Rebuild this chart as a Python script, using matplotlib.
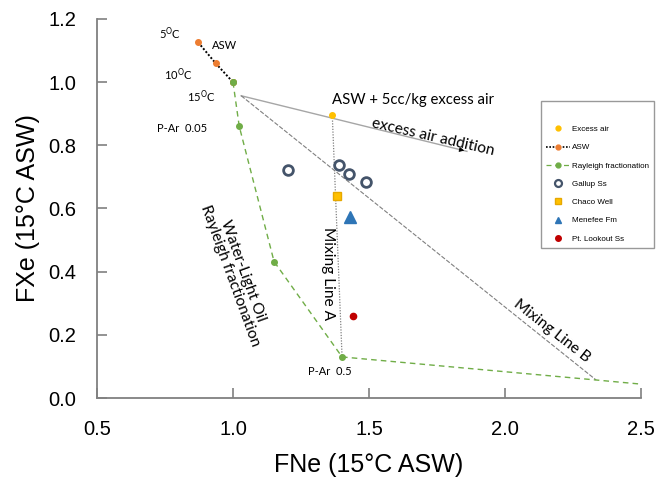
import matplotlib
matplotlib.use("Agg")
import matplotlib.pyplot as plt
from matplotlib.lines import Line2D

# ---- data ----
asw_x = [0.872, 0.936, 1.0]
asw_y = [1.126, 1.060, 1.0]
ray_x = [1.0, 1.023, 1.151, 1.401]
ray_y = [1.0, 0.860, 0.432, 0.130]
ray_tail_x = [1.401, 2.335, 2.55]
ray_tail_y = [0.130, 0.057, 0.040]
excess_x = [1.365]
excess_y = [0.896]
gallup_x = [1.203, 1.390, 1.425, 1.489]
gallup_y = [0.722, 0.739, 0.709, 0.685]
chaco_x = [1.381]
chaco_y = [0.640]
menefee_x = [1.430]
menefee_y = [0.572]
ptl_x = [1.442]
ptl_y = [0.260]
air_line_x = [1.03, 1.86]
air_line_y = [0.957, 0.781]
mixA_x = [1.365, 1.401]
mixA_y = [0.896, 0.130]
mixB_x = [1.03, 2.335]
mixB_y = [0.957, 0.057]
xticks = [0.5, 1.0, 1.5, 2.0, 2.5]
yticks = [0.0, 0.2, 0.4, 0.6, 0.8, 1.0, 1.2]

arial = ['Liberation Sans', 'DejaVu Sans']
cal = ['Lato', 'DejaVu Sans']

fig = plt.figure(figsize=(6.56, 4.84), dpi=100)
ax = fig.add_axes([97/656, 1-398/484, (641-97)/656, (398-19)/484])
ax.set_xlim(0.5, 2.5)
ax.set_ylim(0.0, 1.2)

ORANGE = '#ED7D31'
YEL = '#FFC000'
GREEN = '#70AD47'
NAVY = '#44546A'
BLUE = '#2E75B6'
RED = '#C00000'

# lines
ax.plot(air_line_x, air_line_y, color='#A6A6A6', lw=1.0, zorder=2)
ax.annotate('', xy=(air_line_x[1], air_line_y[1]),
            xytext=(air_line_x[1]-0.03, air_line_y[1]+0.0064),
            arrowprops=dict(arrowstyle='-|>', color='black', lw=0.6, mutation_scale=7))
ax.plot(mixA_x, mixA_y, color='#808080', lw=0.9, ls=(0, (1, 1.2)), zorder=2)
ax.plot(mixB_x, mixB_y, color='#808080', lw=0.8, ls=(0, (4, 1.5)), zorder=2)
ax.plot(ray_tail_x, ray_tail_y, color=GREEN, lw=1.0, ls=(0, (4, 3)), zorder=2)
ax.plot(ray_x, ray_y, color=GREEN, lw=1.0, ls=(0, (4, 3)), marker='o', ms=4,
        mfc=GREEN, mec=GREEN, zorder=3)
ax.plot(asw_x, asw_y, color='black', lw=1.4, ls=(0, (1, 1)), marker='o', ms=4,
        mfc=ORANGE, mec=ORANGE, zorder=3)
ax.plot([asw_x[-1]], [asw_y[-1]], 'o', ms=4, color=GREEN, zorder=4)

ax.plot(excess_x, excess_y, 'o', ms=4, color=YEL, zorder=4)
ax.plot(gallup_x, gallup_y, 'o', ms=7, mfc='white', mec=NAVY, mew=2, zorder=4)
ax.plot(chaco_x, chaco_y, 's', ms=6, mfc=YEL, mec='#E6A800', zorder=4)
ax.plot(menefee_x, menefee_y, '^', ms=8, color=BLUE, zorder=4)
ax.plot(ptl_x, ptl_y, 'o', ms=4.5, color=RED, zorder=4)

# annotations
fs = 8
ax.text(0.728, 1.154, '5$^{\\mathrm{O}}$C', fontsize=fs, family=cal, va='center')
ax.text(0.923, 1.116, 'ASW', fontsize=fs, family=cal, va='center')
ax.text(0.746, 1.024, '10$^{\\mathrm{O}}$C', fontsize=fs, family=cal, va='center')
ax.text(0.832, 0.953, '15$^{\\mathrm{O}}$C', fontsize=fs, family=cal, va='center')
ax.text(0.719, 0.853, 'P-Ar  0.05', fontsize=fs, family=cal, va='center')
ax.text(1.277, 0.083, 'P-Ar  0.5', fontsize=fs, family=cal, va='center')
ax.text(1.363, 0.942, 'ASW + 5cc/kg excess air', fontsize=10.7, family=cal, va='center')
ax.text(1.734, 0.826, 'excess air addition', fontsize=11.2, family=cal,
        va='center', ha='center', rotation=-13)
ax.text(1.013, 0.395, 'Water-Light Oil\nRayleigh fractionation', fontsize=11.2,
        family=cal, va='center', ha='center', rotation=-70, linespacing=1.0)
ax.text(1.350, 0.395, 'Mixing Line A', fontsize=11.2, family=cal,
        va='center', ha='center', rotation=-90)
ax.text(2.171, 0.212, 'Mixing Line B', fontsize=11.2, family=cal,
        va='center', ha='center', rotation=-38)

# axes style
for s in ['top', 'right']:
    ax.spines[s].set_visible(False)
for s in ['left', 'bottom']:
    ax.spines[s].set_color('#808080')
    ax.spines[s].set_linewidth(1.3)
ax.set_xticks(xticks)
ax.set_yticks(yticks)
ax.set_xticklabels([f'{v:.1f}' for v in xticks], family=arial, fontsize=14.5)
ax.set_yticklabels([f'{v:.1f}' for v in yticks], family=arial, fontsize=14.5)
ax.tick_params(direction='in', length=7, width=1.2, color='#808080')
ax.tick_params(axis='x', pad=16)
ax.tick_params(axis='y', pad=15)
ax.set_xlabel('FNe (15°C ASW)', family=arial, fontsize=18)
ax.set_ylabel('FXe (15°C ASW)', family=arial, fontsize=18)
ax.xaxis.set_label_coords(0.5, -0.145)
ax.yaxis.set_label_coords(-0.105, 0.5)

# legend
handles = [
    Line2D([], [], ls='none', marker='o', ms=3.5, color=YEL),
    Line2D([], [], color='black', lw=1.2, ls=(0, (1, 1)), marker='o', ms=3.5, mfc=ORANGE, mec=ORANGE),
    Line2D([], [], color=GREEN, lw=0.9, ls=(0, (4, 3)), marker='o', ms=3.5, mfc=GREEN, mec=GREEN),
    Line2D([], [], ls='none', marker='o', ms=5, mfc='white', mec=NAVY, mew=1.6),
    Line2D([], [], ls='none', marker='s', ms=4.5, mfc=YEL, mec='#E6A800'),
    Line2D([], [], ls='none', marker='^', ms=5, color=BLUE),
    Line2D([], [], ls='none', marker='o', ms=4, color=RED),
]
labels = ['Excess air', 'ASW', 'Rayleigh fractionation', 'Gallup Ss',
          'Chaco Well', 'Menefee Fm', 'Pt. Lookout Ss']
leg = fig.legend(handles, labels, loc='upper left', title=' ', title_fontsize=6.5,
                 bbox_to_anchor=(541/656, 1-101/484), prop={'family': arial, 'size': 5.8},
                 frameon=True, fancybox=False, edgecolor='#808080', handlelength=3.0,
                 labelspacing=1.32, borderpad=0.6, handletextpad=0.25, borderaxespad=0)
leg.get_frame().set_linewidth(1.0)

fig.savefig('out.png', dpi=100)
